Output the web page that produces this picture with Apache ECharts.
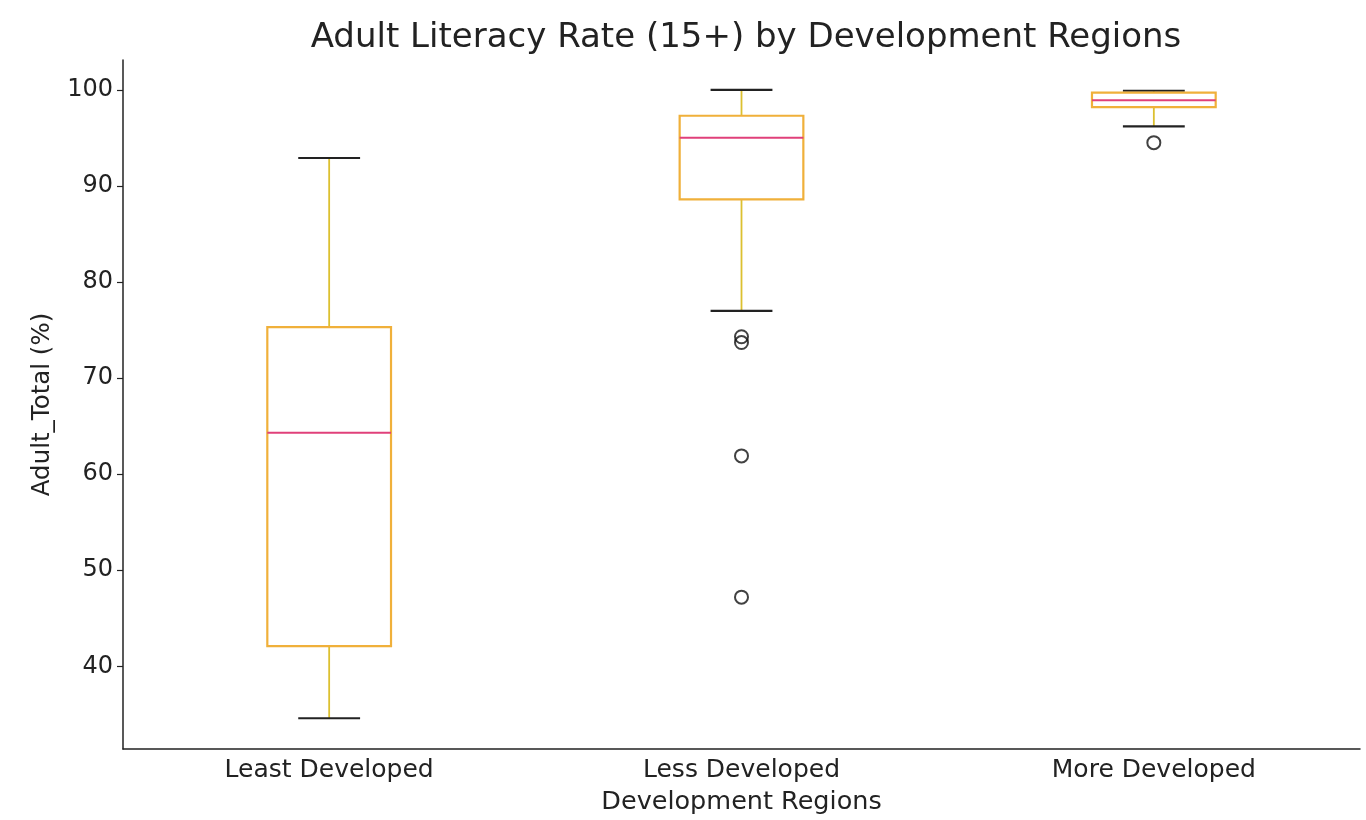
<!DOCTYPE html>
<html>
<head>
<meta charset="utf-8">
<script src="https://cdn.jsdelivr.net/npm/echarts@6/dist/echarts.min.js"></script>
<style>
html,body{margin:0;padding:0;background:#fff;}
#chart{width:1366px;height:820px;}
</style>
</head>
<body>
<div id="chart"></div>
<script>
var categories = ['Least Developed', 'Less Developed', 'More Developed'];
var lowerWhisker = [34.6, 77.0, 96.2];
var q1Values = [42.1, 88.6, 98.2];
var medianValues = [64.3, 95.0, 98.9];
var q3Values = [75.3, 97.3, 99.7];
var upperWhisker = [92.9, 100.0, 99.9];
var outlierCategory = [1, 1, 1, 1, 2];
var outlierValues = [74.3, 73.7, 61.9, 47.2, 94.5];
var yTicks = [40, 50, 60, 70, 80, 90, 100];

var boxData = categories.map(function (c, i) {
  return [i, lowerWhisker[i], q1Values[i], medianValues[i], q3Values[i], upperWhisker[i]];
});
var outlierData = outlierValues.map(function (v, i) { return [outlierCategory[i], v]; });

var FONT = 'DejaVu Sans';
var chart = echarts.init(document.getElementById('chart'));

function renderBox(params, api) {
  var idx = api.value(0);
  var lo = api.coord([idx, api.value(1)]);
  var q1 = api.coord([idx, api.value(2)]);
  var med = api.coord([idx, api.value(3)]);
  var q3 = api.coord([idx, api.value(4)]);
  var hi = api.coord([idx, api.value(5)]);
  var band = api.size([1, 0])[0];
  var bw = band * 0.30;
  var cw = bw / 2;
  var x = lo[0];
  var boxColor = '#F0B03A';
  var whiskColor = '#DCC030';
  return {
    type: 'group',
    children: [
      { type: 'line', shape: { x1: x, y1: q1[1], x2: x, y2: lo[1] }, style: { stroke: whiskColor, lineWidth: 1.8 } },
      { type: 'line', shape: { x1: x, y1: q3[1], x2: x, y2: hi[1] }, style: { stroke: whiskColor, lineWidth: 1.8 } },
      { type: 'line', shape: { x1: x - cw / 2, y1: lo[1], x2: x + cw / 2, y2: lo[1] }, style: { stroke: '#222', lineWidth: 2.2 } },
      { type: 'line', shape: { x1: x - cw / 2, y1: hi[1], x2: x + cw / 2, y2: hi[1] }, style: { stroke: '#222', lineWidth: 2.2 } },
      { type: 'rect', shape: { x: x - bw / 2, y: q3[1], width: bw, height: q1[1] - q3[1] }, style: { fill: 'none', stroke: boxColor, lineWidth: 2.2 } },
      { type: 'line', shape: { x1: x - bw / 2, y1: med[1], x2: x + bw / 2, y2: med[1] }, style: { stroke: '#E0407A', lineWidth: 2 } }
    ]
  };
}

chart.setOption({
  backgroundColor: '#ffffff',
  animation: false,
  title: {
    text: 'Adult Literacy Rate (15+) by Development Regions',
    left: 741, textAlign: 'center', top: 16,
    textStyle: { fontFamily: FONT, fontSize: 34, fontWeight: 'normal', color: '#222' }
  },
  grid: { left: 123, right: 6, top: 60, bottom: 67, containLabel: false },
  xAxis: {
    type: 'category',
    data: categories,
    name: 'Development Regions',
    nameLocation: 'middle',
    nameGap: 40,
    nameTextStyle: { fontFamily: FONT, fontSize: 25.5, color: '#222' },
    axisLine: { lineStyle: { color: '#222', width: 1.5 } },
    axisTick: { alignWithLabel: true, length: 6, lineStyle: { color: '#222', width: 1.2 } },
    axisLabel: { fontFamily: FONT, fontSize: 25, color: '#222', margin: 9 },
    splitLine: { show: false }
  },
  yAxis: {
    type: 'value',
    min: 31.4, max: 103.1,
    name: 'Adult_Total (%)',
    nameLocation: 'middle',
    nameGap: 68,
    nameTextStyle: { fontFamily: FONT, fontSize: 24.5, color: '#222' },
    axisLine: { show: true, lineStyle: { color: '#222', width: 1.5 } },
    axisTick: { show: true, length: 6, lineStyle: { color: '#222', width: 1.2 }, customValues: yTicks },
    axisLabel: { fontFamily: FONT, fontSize: 24, color: '#222', margin: 10, customValues: yTicks },
    splitLine: { show: false }
  },
  series: [
    {
      type: 'custom',
      renderItem: renderBox,
      data: boxData,
      encode: { x: 0, y: [1, 2, 3, 4, 5] },
      z: 3
    },
    {
      type: 'scatter',
      data: outlierData,
      symbol: 'circle',
      symbolSize: 13,
      itemStyle: { color: 'rgba(255,255,255,0)', borderColor: '#111', borderWidth: 2 },
      z: 4
    }
  ]
});
</script>
</body>
</html>
